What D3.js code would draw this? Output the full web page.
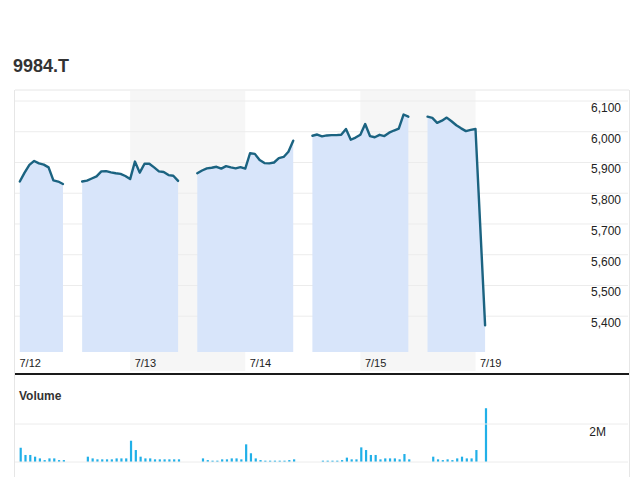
<!DOCTYPE html>
<html>
<head>
<meta charset="utf-8">
<script src="https://cdn.jsdelivr.net/npm/d3@7"></script>
<style>
  body { margin: 0; background: #fff; font-family: Arial, "Liberation Sans", sans-serif; }
</style>
</head>
<body>
<svg id="chart" width="640" height="477"></svg>
<script>
// ---- data ----
const symbol = "9984.T";
const dayLabels = ["7/12", "7/13", "7/14", "7/15", "7/19"];
const priceTicks = [5400, 5500, 5600, 5700, 5800, 5900, 6000, 6100];
const volumeTicks = [2]; // millions

// 15-minute slots; session k begins at slot 24*k, day label k sits at slot 24*k + 10
const pricesFirstSlot = [11, 0, 0, 0, 0];
const prices0 = [5838, 5867, 5892, 5905, 5897, 5893, 5884, 5842, 5838, 5830];
const prices1 = [5838, 5841, 5848, 5855, 5871, 5872, 5868, 5865, 5863, 5856, 5846,
                 5903, 5867, 5896, 5896, 5884, 5871, 5869, 5859, 5857, 5840];
const prices2 = [5865, 5874, 5881, 5883, 5886, 5880, 5888, 5884, 5881, 5885, 5880,
                 5930, 5928, 5908, 5898, 5897, 5900, 5914, 5918, 5935, 5971];
const prices3 = [5987, 5991, 5985, 5988, 5989, 5989, 5990, 6009, 5974, 5981, 5990,
                 6025, 5986, 5982, 5990, 5986, 5997, 6004, 6010, 6056, 6049];
const prices4 = [6049, 6045, 6029, 6036, 6046, 6034, 6021, 6011, 6002, 6006, 6009, null, 5370];

// volume in millions
const volumesFirstSlot = [11, 1, 1, 1, 1];
const volumes0 = [0.75, 0.37, 0.37, 0.28, 0.19, 0.10, 0.19, 0.19, 0.10, 0.10];
const volumes1 = [0.28, 0.19, 0.14, 0.14, 0.14, 0.14, 0.19, 0.19, 0.19, 1.12,
                  0.63, 0.28, 0.19, 0.19, 0.14, 0.14, 0.14, 0.14, 0.14, 0.14];
const volumes2 = [0.19, 0.10, 0.07, 0.07, 0.14, 0.14, 0.19, 0.19, 0.14, 0.93,
                  0.46, 0.19, 0.10, 0.07, 0.07, 0.07, 0.07, 0.07, 0.10, 0.14];
const volumes3 = [0, 0.07, 0.07, 0.07, 0.07, 0.10, 0.23, 0.14, 0.14, 0.77,
                  0.63, 0.37, 0.37, 0.14, 0.19, 0.19, 0.19, 0.14, 0.42, 0.14];
const volumes4 = [0.28, 0.14, 0.10, 0.14, 0.10, 0.19, 0.28, 0.19, 0.19, 0.63, 0, 2.83];

const allPrices = [prices0, prices1, prices2, prices3, prices4];
const allVolumes = [volumes0, volumes1, volumes2, volumes3, volumes4];

// ---- layout ----
const svg = d3.select("#chart");
const left = 15, right = 629;
const plotTop = 90, plotBottom = 352;

const x = d3.scaleLinear().domain([10, 138]).range([left, right]);
const y = d3.scaleLinear().domain([5400, 6100]).range([316.2, 101]);
const yv = d3.scaleLinear().domain([0, 2]).range([462, 424]);

const sessions = allPrices.map((p, k) => ({
  prices: p.map((v, i) => ({ t: 24 * k + pricesFirstSlot[k] + i, v }))
           .filter(d => d.v != null),
  volumes: allVolumes[k].map((v, i) => ({ t: 24 * k + volumesFirstSlot[k] + i, v }))
}));

// title
svg.append("text")
  .attr("x", 13).attr("y", 72)
  .attr("font-size", 18).attr("font-weight", "bold")
  .attr("fill", "#333")
  .text(symbol);

// alternate day bands
svg.selectAll(".band").data(dayLabels.slice(0, 4))
  .enter().filter((d, i) => i % 2 === 1)
  .append("rect")
    .attr("class", "band")
    .attr("x", d => x(24 * dayLabels.indexOf(d) + 10))
    .attr("width", d => x(24 * dayLabels.indexOf(d) + 34) - x(24 * dayLabels.indexOf(d) + 10))
    .attr("y", plotTop + 1)
    .attr("height", 371 - plotTop - 1)
    .attr("fill", "#f6f6f6");

// price grid
svg.selectAll(".grid").data(priceTicks)
  .enter().append("line")
    .attr("x1", left).attr("x2", right - 1)
    .attr("y1", d => y(d)).attr("y2", d => y(d))
    .attr("stroke", "#ececec").attr("stroke-width", 1);

// frame
svg.append("line").attr("x1", left).attr("x2", right).attr("y1", plotTop).attr("y2", plotTop)
  .attr("stroke", "#e6e6e6");
svg.append("line").attr("x1", 14.5).attr("x2", 14.5).attr("y1", plotTop).attr("y2", 477)
  .attr("stroke", "#e6e6e6");
svg.append("line").attr("x1", right + 0.5).attr("x2", right + 0.5).attr("y1", plotTop).attr("y2", 477)
  .attr("stroke", "#e6e6e6");

// price area + line
const area = d3.area()
  .x(d => x(d.t)).y0(plotBottom).y1(d => y(d.v));
const line = d3.line()
  .x(d => x(d.t)).y(d => y(d.v));

const sg = svg.selectAll(".session").data(sessions).enter().append("g");
sg.append("path")
  .attr("d", d => area(d.prices))
  .attr("fill", "#d8e5fa");
sg.append("path")
  .attr("d", d => line(d.prices))
  .attr("fill", "none")
  .attr("stroke", "#1b6381")
  .attr("stroke-width", 2.4)
  .attr("stroke-linejoin", "round")
  .attr("stroke-linecap", "round");

// price labels
svg.selectAll(".ylab").data(priceTicks)
  .enter().append("text")
    .attr("x", 621).attr("y", d => y(d) + 11)
    .attr("text-anchor", "end")
    .attr("font-size", 12).attr("fill", "#222")
    .text(d => d3.format(",")(d));

// day labels
svg.selectAll(".xlab").data(dayLabels)
  .enter().append("text")
    .attr("x", (d, i) => x(24 * i + 10) + 4.5)
    .attr("y", 367)
    .attr("font-size", 11).attr("fill", "#222")
    .text(d => d);

// separator
svg.append("line").attr("x1", left).attr("x2", right).attr("y1", 374).attr("y2", 374)
  .attr("stroke", "#1a1a1a").attr("stroke-width", 2);

// volume panel
svg.append("text")
  .attr("x", 19).attr("y", 400)
  .attr("font-size", 12).attr("font-weight", "bold").attr("fill", "#333")
  .text("Volume");

svg.selectAll(".vgrid").data([0].concat(volumeTicks))
  .enter().append("line")
    .attr("x1", left).attr("x2", right - 1)
    .attr("y1", d => yv(d)).attr("y2", d => yv(d))
    .attr("stroke", "#ececec");

svg.selectAll(".vlab").data(volumeTicks)
  .enter().append("text")
    .attr("x", 606).attr("y", d => yv(d) + 12)
    .attr("text-anchor", "end")
    .attr("font-size", 12).attr("fill", "#222")
    .text(d => d + "M");

sg.selectAll(".vbar").data(d => d.volumes.filter(v => v.v > 0))
  .enter().append("rect")
    .attr("x", d => x(d.t) - 0.2)
    .attr("width", 2.2)
    .attr("y", d => yv(d.v))
    .attr("height", d => yv(0) - yv(d.v))
    .attr("fill", "#21b0e8");
</script>
</body>
</html>
